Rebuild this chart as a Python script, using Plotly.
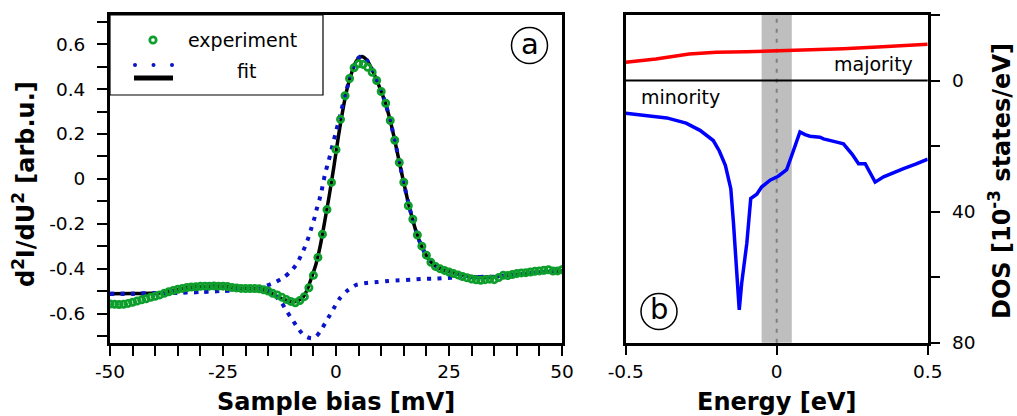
import plotly.graph_objects as go

W, H = 1017, 416

# ---------------- Panel (a): d2I/dU2 vs sample bias ----------------
exp_bias = list(range(-50, 51))
exp_d2i = [-0.558, -0.559, -0.560, -0.559, -0.555, -0.550, -0.544, -0.539, -0.534, -0.528,
           -0.523, -0.517, -0.510, -0.503, -0.497, -0.492, -0.488, -0.484, -0.482, -0.481,
           -0.479, -0.478, -0.478, -0.477, -0.478, -0.478, -0.480, -0.484, -0.486, -0.488,
           -0.489, -0.489, -0.489, -0.490, -0.494, -0.500, -0.510, -0.517, -0.527, -0.537,
           -0.546, -0.552, -0.542, -0.525, -0.485, -0.430, -0.350, -0.247, -0.137, -0.016,
           0.130, 0.265, 0.370, 0.447, 0.495, 0.513, 0.510, 0.497, 0.475, 0.438,
           0.389, 0.337, 0.260, 0.172, 0.073, -0.015, -0.120, -0.180, -0.250, -0.300,
           -0.340, -0.372, -0.390, -0.400, -0.408, -0.415, -0.422, -0.428, -0.435, -0.441,
           -0.446, -0.450, -0.452, -0.449, -0.447, -0.449, -0.440, -0.430, -0.431, -0.426,
           -0.422, -0.419, -0.418, -0.415, -0.412, -0.410, -0.407, -0.405, -0.411, -0.410,
           -0.405]

fit_bias = [-50, -45, -41, -38, -36, -34, -31, -28, -25, -22, -19, -17, -15.5, -14, -12.5,
            -11, -9.5, -8.3, -7.2, -6.3, -5.5, -4.5, -3.5, -2.5, -1.5, -0.5, 0.5, 1.5, 2.5,
            3.5, 4.5, 5.7, 6.8, 7.8, 8.8, 9.8, 10.8, 11.8, 12.8, 13.8, 14.8, 15.8, 16.8,
            17.8, 18.8, 19.8, 20.8, 22, 23.5, 25, 27, 29, 31, 33, 35, 38, 41, 45, 50]
fit_d2i = [-0.512, -0.511, -0.510, -0.508, -0.497, -0.488, -0.481, -0.478, -0.479, -0.486,
           -0.489, -0.490, -0.498, -0.512, -0.530, -0.541, -0.548, -0.542, -0.525, -0.490,
           -0.445, -0.385, -0.300, -0.190, -0.075, 0.050, 0.185, 0.305, 0.405, 0.475,
           0.525, 0.545, 0.530, 0.495, 0.450, 0.400, 0.345, 0.275, 0.190, 0.095,
           0.000, -0.090, -0.170, -0.240, -0.295, -0.335, -0.365, -0.388, -0.403, -0.413,
           -0.424, -0.433, -0.437, -0.438, -0.436, -0.430, -0.423, -0.415, -0.410]

peak_bias = [-50, -45, -40, -35, -30, -25, -20, -16, -13.7, -11.4, -9.8, -8.5, -7.6, -6.7,
             -6.0, -5.4, -4.8, -4.3, -3.7, -3.2, -2.8, -2.4, -1.7, -1.0, 0.0, 1.0, 2.0, 3.0,
             4.0, 5.0, 5.8, 6.8, 7.8, 8.8, 9.8, 10.8, 11.8, 12.8, 13.8, 14.8, 15.8, 16.8,
             17.8, 18.8, 19.8, 20.8, 22, 23.5, 25, 27, 29, 31, 33, 35, 38, 41, 45, 50]
peak_d2i = [-0.512, -0.512, -0.510, -0.507, -0.504, -0.499, -0.491, -0.480, -0.463, -0.437,
            -0.408, -0.373, -0.335, -0.296, -0.256, -0.216, -0.177, -0.137, -0.095, -0.055,
            -0.015, 0.024, 0.075, 0.130, 0.210, 0.290, 0.370, 0.445, 0.505, 0.540,
            0.547, 0.530, 0.495, 0.450, 0.400, 0.345, 0.275, 0.190, 0.095, 0.000,
            -0.090, -0.170, -0.240, -0.295, -0.335, -0.365, -0.388, -0.403, -0.413, -0.424,
            -0.433, -0.437, -0.438, -0.436, -0.430, -0.423, -0.415, -0.410]

dip_bias = [-50, -45, -40, -35, -30, -25, -20, -17, -15, -13.5, -12.0, -10.9, -9.7, -8.6,
            -7.2, -6.0, -5.2, -4.3, -3.5, -2.4, -1.3, -0.2, 0.9, 2.4, 4.4, 6.8, 9.1, 11.6,
            14, 16.6, 18.9, 21.4, 23.9, 27, 31, 35, 40, 45, 50]
dip_d2i = [-0.512, -0.512, -0.510, -0.507, -0.504, -0.499, -0.491, -0.485, -0.495, -0.520,
           -0.553, -0.590, -0.626, -0.660, -0.696, -0.708, -0.710, -0.700, -0.680, -0.643,
           -0.605, -0.567, -0.531, -0.500, -0.473, -0.464, -0.460, -0.455, -0.452, -0.449,
           -0.446, -0.445, -0.442, -0.440, -0.437, -0.436, -0.427, -0.418, -0.410]

a_xticks = [-50, -25, 0, 25, 50]
a_xticklabels = ["-50", "-25", "0", "25", "50"]
a_yticks = [-0.6, -0.4, -0.2, 0, 0.2, 0.4, 0.6]
a_yticklabels = ["-0.6", "-0.4", "-0.2", "0", "0.2", "0.4", "0.6"]

# ---------------- Panel (b): DOS vs energy ----------------
energy_maj = [-0.5, -0.4, -0.29, -0.2, -0.1, 0.0, 0.1, 0.22, 0.35, 0.5]
dos_maj = [5.6, 6.6, 8.1, 8.6, 8.8, 9.0, 9.2, 9.7, 10.3, 11.1]

energy_min = [-0.5, -0.45, -0.4, -0.364, -0.3, -0.254, -0.21, -0.19, -0.17, -0.152, -0.143,
              -0.134, -0.124, -0.116, -0.099, -0.086, -0.066, -0.05, -0.022, 0.005, 0.033,
              0.05, 0.066, 0.077, 0.094, 0.11, 0.143, 0.155, 0.199, 0.221, 0.25, 0.271,
              0.293, 0.31, 0.326, 0.354, 0.38, 0.42, 0.46, 0.5]
dos_min = [10.0, 10.5, 11.0, 11.4, 13.0, 15.2, 18.3, 21.5, 25.9, 33.0, 43.6,
           55.8, 70.0, 61.9, 49.7, 36.0, 34.7, 32.5, 30.4, 29.2, 27.2,
           22.8, 18.8, 15.7, 16.5, 17.0, 17.3, 17.8, 18.8, 19.3, 22.5, 25.4,
           25.4, 28.5, 31.0, 29.4, 28.3, 26.9, 25.5, 24.0]

b_xticks = [-0.5, 0, 0.5]
b_xticklabels = ["-0.5", "0", "0.5"]
b_yticks = [0, 40, 80]
b_yticklabels = ["0", "40", "80"]

FONT = "DejaVu Sans"
GREEN = "#0e9e2c"
DOTBLUE = "#0a14c8"


def px(x):
    return x / W


def py(y):
    return 1 - y / H


fig = go.Figure()

# panel (a) traces
fig.add_trace(go.Scatter(x=fit_bias, y=fit_d2i, mode="lines",
                         line=dict(color="black", width=3.5, shape="spline", smoothing=0.6),
                         xaxis="x", yaxis="y", showlegend=False))
fig.add_trace(go.Scatter(x=peak_bias, y=peak_d2i, mode="lines",
                         line=dict(color=DOTBLUE, width=4, dash="4px,6.5px", shape="spline", smoothing=0.6),
                         xaxis="x", yaxis="y", showlegend=False))
fig.add_trace(go.Scatter(x=dip_bias, y=dip_d2i, mode="lines",
                         line=dict(color=DOTBLUE, width=4, dash="4px,6.5px", shape="spline", smoothing=0.6),
                         xaxis="x", yaxis="y", showlegend=False))
fig.add_trace(go.Scatter(x=exp_bias, y=exp_d2i, mode="markers",
                         marker=dict(symbol="circle-open", size=6.3, color=GREEN,
                                     line=dict(color=GREEN, width=2.7)),
                         xaxis="x", yaxis="y", showlegend=False))

# panel (b) traces
fig.add_trace(go.Scatter(x=energy_maj, y=[-v for v in dos_maj], mode="lines",
                         line=dict(color="#ff0000", width=3.5),
                         xaxis="x2", yaxis="y2", showlegend=False))
fig.add_trace(go.Scatter(x=energy_min, y=dos_min, mode="lines",
                         line=dict(color="#0000ff", width=3.5),
                         xaxis="x2", yaxis="y2", showlegend=False))

axis_common = dict(showgrid=False, zeroline=False, showline=True, linecolor="black",
                   ticks="outside", tickcolor="black", tickwidth=2, ticklen=10,
                   automargin=False,
                   tickfont=dict(family=FONT, size=18.5, color="black"))

fig.update_layout(
    template="none",
    width=W, height=H, autosize=False,
    margin=dict(l=0, r=0, t=0, b=0),
    paper_bgcolor="white", plot_bgcolor="white",
    font=dict(family=FONT, color="black"),
    showlegend=False,
    xaxis=dict(domain=[px(110), px(562)], range=[-50, 50], anchor="y",
               tickmode="array", tickvals=a_xticks, ticktext=a_xticklabels,
               linewidth=3, mirror=True, ticklabelstandoff=0,
               minor=dict(tickmode="linear", tick0=0, dtick=5, ticks="outside",
                          ticklen=10, tickwidth=2, tickcolor="black", showgrid=False),
               **axis_common),
    yaxis=dict(domain=[py(342.7), py(15)], range=[-0.73, 0.73], anchor="x",
               tickmode="array", tickvals=a_yticks, ticktext=a_yticklabels,
               linewidth=3, mirror=True, ticklabelstandoff=8,
               minor=dict(tickmode="linear", tick0=0, dtick=0.1, ticks="outside",
                          ticklen=10, tickwidth=2, tickcolor="black", showgrid=False),
               **axis_common),
    xaxis2=dict(domain=[px(625.7), px(927.7)], range=[-0.5, 0.5], anchor="y2",
                tickmode="array", tickvals=b_xticks, ticktext=b_xticklabels,
                linewidth=2.5, mirror=True, ticklabelstandoff=0, **axis_common),
    yaxis2=dict(domain=[py(342.7), py(15)], range=[80, -20], anchor="x2", side="right",
                tickmode="array", tickvals=b_yticks, showticklabels=False,
                linewidth=2.5, mirror=True,
                minor=dict(tickmode="linear", tick0=0, dtick=20, ticks="outside",
                           ticklen=10, tickwidth=2, tickcolor="black", showgrid=False),
                **axis_common),
)

shapes = []
# gray band and Fermi level
shapes.append(dict(type="rect", xref="x2", yref="y2 domain", x0=-0.05, x1=0.05, y0=0, y1=1,
                   fillcolor="#bebebe", line=dict(width=0), layer="below"))
shapes.append(dict(type="line", xref="x2", yref="y2 domain", x0=0, x1=0, y0=0, y1=1,
                   line=dict(color="#808080", width=2, dash="4px,6px"), layer="below"))
# zero line dividing majority / minority
shapes.append(dict(type="line", xref="x2 domain", yref="y2", x0=0, x1=1, y0=0, y1=0,
                   line=dict(color="black", width=2), layer="above"))

# legend box of panel (a)
shapes.append(dict(type="rect", xref="paper", yref="paper", x0=px(110), x1=px(323),
                   y0=py(95), y1=py(15), line=dict(color="black", width=1.2),
                   fillcolor="white", layer="above"))
shapes.append(dict(type="circle", xref="paper", yref="paper",
                   x0=px(153 - 3.2), x1=px(153 + 3.2), y0=py(40 + 3.2), y1=py(40 - 3.2),
                   line=dict(color=GREEN, width=2.7), layer="above"))
for cx in (135, 153.5, 172):
    shapes.append(dict(type="circle", xref="paper", yref="paper",
                       x0=px(cx - 2), x1=px(cx + 2), y0=py(65 + 2), y1=py(65 - 2),
                       fillcolor=DOTBLUE, line=dict(width=0), layer="above"))
shapes.append(dict(type="line", xref="paper", yref="paper", x0=px(134), x1=px(173),
                   y0=py(78), y1=py(78), line=dict(color="black", width=5), layer="above"))

# circled panel labels
for (cx, cy) in ((529.5, 45.5), (659, 311.5)):
    r = 18
    shapes.append(dict(type="circle", xref="paper", yref="paper",
                       x0=px(cx - r), x1=px(cx + r), y0=py(cy + r), y1=py(cy - r),
                       fillcolor="white", line=dict(color="black", width=1.5), layer="above"))

fig.update_layout(shapes=shapes)

ann = []


def text(x, y, s, size=19, xanchor="center", yanchor="middle", angle=0, bold=False):
    ann.append(dict(x=px(x), y=py(y), xref="paper", yref="paper", text=s, showarrow=False,
                    xanchor=xanchor, yanchor=yanchor, textangle=angle,
                    font=dict(family=FONT, size=size, color="black",
                              weight="bold" if bold else "normal")))


# right-hand DOS tick labels, placed at their axis values
for v, lab in zip(b_yticks, b_yticklabels):
    ann.append(dict(x=px(950), y=v, xref="paper", yref="y2", text=lab, showarrow=False,
                    xanchor="left", yanchor="middle",
                    font=dict(family=FONT, size=18.5, color="black")))

text(185.7, 40, "experiment", xanchor="left")
text(246, 71, "fit")
text(529.5, 44, "a", size=29)
text(659, 309, "b", size=29)
text(915, 64, "majority", xanchor="right")
text(639, 97, "minority", xanchor="left")
text(336, 402, "Sample bias [mV]", size=24, bold=True)
text(776.7, 402, "Energy [eV]", size=24, bold=True)
text(24, 184, "d<sup>2</sup>I/dU<sup>2</sup> [arb.u.]", size=24, angle=-90, bold=True)
text(1000, 181, "DOS [10<sup>-3</sup> states/eV]", size=24, angle=-90, bold=True)

fig.update_layout(annotations=ann)

fig.write_html("out.html", config={"displayModeBar": False})

# remove the browser's default page margin so the figure sits at the window origin
with open("out.html", "r", encoding="utf-8") as f:
    html = f.read()
html = html.replace("<head>", "<head><style>html,body{margin:0;padding:0;overflow:hidden;}</style>", 1)
with open("out.html", "w", encoding="utf-8") as f:
    f.write(html)
